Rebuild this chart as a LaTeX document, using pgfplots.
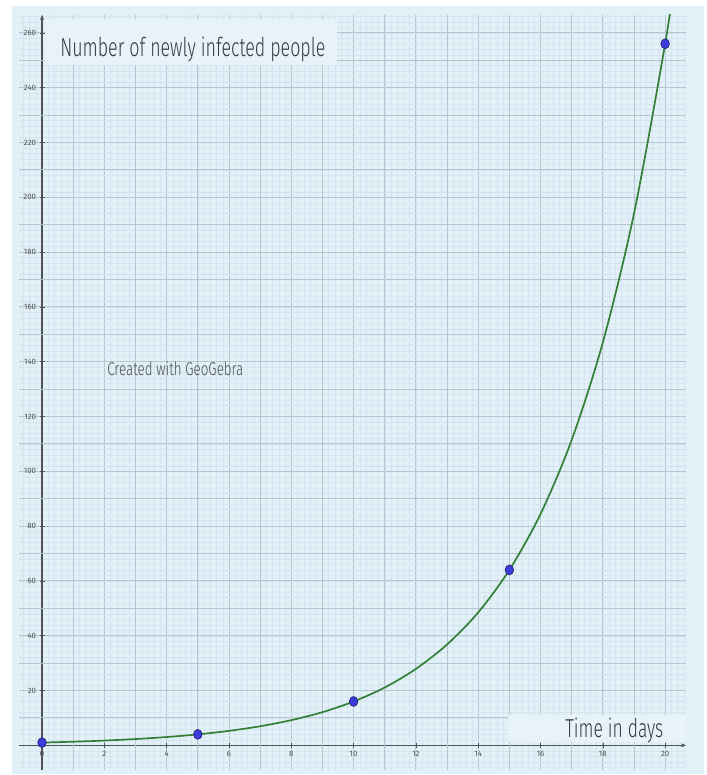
\documentclass[border=0pt]{standalone}
\usepackage{fontspec}
\setmainfont{Fira Sans}
\newfontfamily\lightfont{Fira Sans}[UprightFont={* Light}]
\usepackage{graphicx}
\usepackage{pgfplots}
\pgfplotsset{compat=1.18}
\usetikzlibrary{arrows.meta}
\definecolor{bg}{RGB}{226,240,248}
\definecolor{gmaj}{RGB}{182,198,208}
\definecolor{gmin}{RGB}{213,228,238}
\definecolor{axc}{RGB}{78,82,88}
\definecolor{curvec}{RGB}{50,128,54}
\definecolor{ptc}{RGB}{60,60,220}
\definecolor{ptd}{RGB}{30,30,110}
\definecolor{boxc}{RGB}{231,243,249}
\definecolor{txt}{RGB}{55,58,62}
\begin{document}
\begin{tikzpicture}[x=1pt,y=1pt]
\fill[white] (0,0) rectangle (706,775);
\fill[bg] (12,1) rectangle (704,769);
\begin{axis}[at={(19pt,5pt)}, anchor=south west, scale only axis,
  width=667pt, height=755pt,
  xmin=-0.74, xmax=20.67, ymin=-9, ymax=266.5,
  axis lines=middle,
  axis line style={axc, line width=1.4pt, -{Stealth[length=5pt,width=4pt]}},
  hide obscured x ticks=false, hide obscured y ticks=false,
  xtick={0,2,...,20}, ytick={20,40,...,260},
  extra x ticks={1,3,...,19}, extra y ticks={10,30,50,70,90,110,130,150,170,190,210,230,250},
  extra x tick labels={}, extra y tick labels={},
  extra tick style={grid=major, major tick length=0pt},
  minor xtick={-0.6,-0.4,...,20.6}, minor ytick={-8,-6,...,266},
  grid=both,
  major grid style={gmaj, line width=0.9pt},
  minor grid style={gmin, line width=0.4pt},
  major tick length=5pt, minor tick length=0pt,
  tick style={axc, line width=0.6pt},
  ticklabel style={font=\fontsize{7.8}{7.8}\selectfont, text=black!68},
  /pgf/number format/assume math mode=true,
]
\node[fill=boxc, inner sep=0pt, minimum width=292pt, minimum height=46pt, anchor=north west] at (axis cs:0.1,265) {};
\node[fill=boxc, inner sep=0pt, minimum width=178pt, minimum height=27pt, anchor=north west] at (axis cs:14.96,11.1) {};
\node[anchor=base west, inner sep=0pt, text=txt] at (axis cs:0.58,251.3) {\resizebox{265pt}{\height}{\fontsize{26}{26}\lightfont Number of newly infected people}};
\node[anchor=base west, inner sep=0pt, text=txt] at (axis cs:16.79,2.7) {\resizebox{98pt}{\height}{\fontsize{26}{26}\lightfont Time in days}};
\node[anchor=base west, inner sep=0pt, text=txt!90] at (axis cs:2.09,134.9) {\resizebox{136pt}{\height}{\fontsize{18.4}{18.4}\lightfont Created with GeoGebra}};
\addplot[curvec, line width=1.7pt, smooth] coordinates {(0,1)(1,1.32)(2,1.74)(3,2.30)(4,3.03)(5,4)(6,5.28)(7,6.96)(8,9.19)(9,12.1)(10,16)(11,21.1)(12,27.9)(13,36.8)(14,48.5)(15,64)(16,84.4)(17,111.4)(18,147)(19,194)(20,256)(20.5,294)};
\addplot[only marks, mark=*, mark size=4.3pt, mark options={fill=ptc, draw=ptd, line width=0.6pt, yscale=1.15}] coordinates {(0,1)(5,4)(10,16)(15,64)(20,256)};
\end{axis}
\end{tikzpicture}
\end{document}
